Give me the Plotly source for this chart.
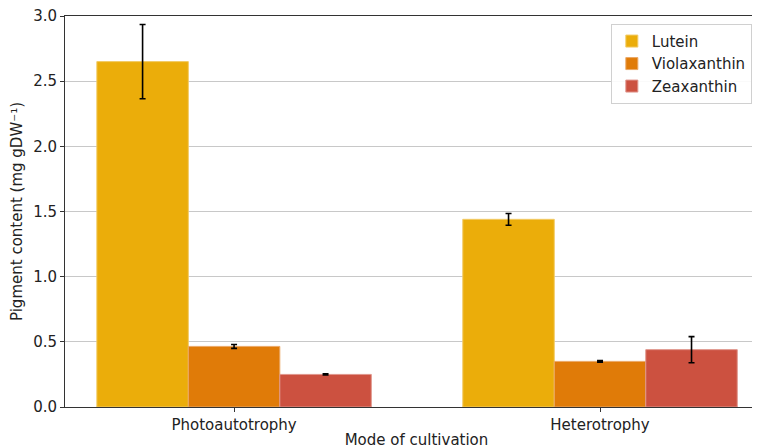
import plotly.graph_objects as go

categories = ["Photoautotrophy", "Heterotrophy"]
series = ["Lutein", "Violaxanthin", "Zeaxanthin"]
lutein = [2.65, 1.44]
lutein_err = [0.285, 0.045]
violaxanthin = [0.465, 0.35]
violaxanthin_err = [0.015, 0.006]
zeaxanthin = [0.25, 0.44]
zeaxanthin_err = [0.005, 0.10]
colors = ["#EBAD0A", "#E07B08", "#CC5140"]
edge_colors = ["#F2CB66", "#EBA866", "#E0968C"]
y_ticks = [0.0, 0.5, 1.0, 1.5, 2.0, 2.5, 3.0]

values = [lutein, violaxanthin, zeaxanthin]
errors = [lutein_err, violaxanthin_err, zeaxanthin_err]

font = "DejaVu Sans"
fs = 15
fig = go.Figure()
for name, v, e, c, ec in zip(series, values, errors, colors, edge_colors):
    fig.add_trace(go.Bar(
        name=name, x=categories, y=v,
        marker=dict(color=c, line=dict(color=ec, width=1)),
        error_y=dict(type="data", array=e, color="black", thickness=1.6, width=3),
    ))

fig.update_layout(
    width=760, height=448,
    margin=dict(l=57, r=0, t=8, b=49),
    paper_bgcolor="white", plot_bgcolor="white",
    barmode="group", bargap=0.25, bargroupgap=0,
    font=dict(family=font, size=fs, color="#222"),
    legend=dict(
        x=0.977, y=0.98, xanchor="right", yanchor="top",
        bgcolor="rgba(255,255,255,0.9)", bordercolor="#d0d0d0", borderwidth=1,
        font=dict(size=fs, family=font, color="#222"),
        itemwidth=30,
    ),
    showlegend=True,
)
fig.update_xaxes(
    range=[-0.462, 1.459],
    showline=True, linecolor="#333", linewidth=1, mirror=True,
    ticks="outside", ticklen=4, tickcolor="#333",
    tickfont=dict(size=fs, family=font, color="#222"),
    title=dict(text="Mode of cultivation", font=dict(size=fs, family=font, color="#222"), standoff=1),
    automargin=False, showgrid=False, ticklabeloverflow="allow",
)
fig.update_yaxes(
    range=[0, 3.0], tickvals=y_ticks, ticktext=[f"{t:.1f}" for t in y_ticks],
    showline=True, linecolor="#333", linewidth=1,
    ticks="outside", ticklen=4, tickcolor="#333",
    tickfont=dict(size=fs, family=font, color="#222"),
    showgrid=True, gridcolor="#c8c8c8", gridwidth=1, zeroline=False,
    title=dict(text="Pigment content (mg gDW⁻¹)", font=dict(size=fs, family=font, color="#222"), standoff=6),
    automargin=False, ticklabeloverflow="allow",
)
fig.write_html("out.html")
